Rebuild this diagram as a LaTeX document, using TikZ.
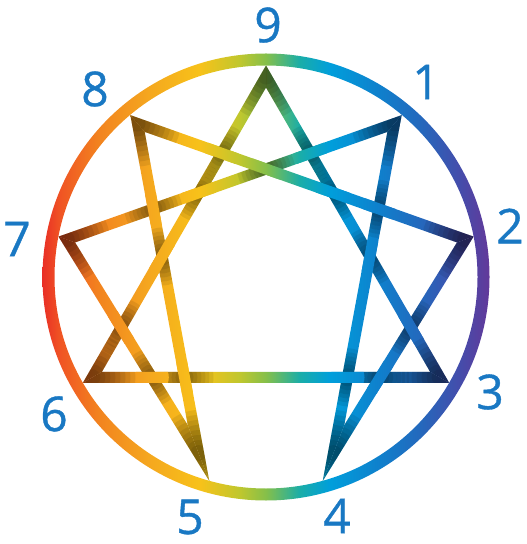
\documentclass[tikz,border=0pt]{standalone}
\usepackage{fontspec}
\setmainfont{Open Sans}
\newfontfamily\digitfont{Open Sans}[FakeBold=0.8]
\usetikzlibrary{calc}
\definecolor{digitblue}{RGB}{25,120,195}
% colour runs from left (red) to right (violet)
\pgfdeclarehorizontalshading{spectrum}{100bp}{%
  rgb(0bp)=(0.91,0.16,0.15); rgb(28.8bp)=(0.91,0.16,0.15);
  rgb(30.7bp)=(0.94,0.33,0.14); rgb(34.5bp)=(0.95,0.52,0.12);
  rgb(39.3bp)=(0.96,0.66,0.12); rgb(44bp)=(0.97,0.76,0.10);
  rgb(47.8bp)=(0.75,0.78,0.18); rgb(50.3bp)=(0.52,0.75,0.29);
  rgb(53.5bp)=(0.10,0.68,0.66); rgb(56.4bp)=(0.00,0.62,0.86);
  rgb(61.1bp)=(0.06,0.50,0.80); rgb(64.9bp)=(0.14,0.41,0.74);
  rgb(68.7bp)=(0.27,0.30,0.67); rgb(71.6bp)=(0.39,0.22,0.60);
  rgb(100bp)=(0.39,0.22,0.60)}
\tikzset{
  digit/.style={text=digitblue, font=\digitfont\fontsize{24}{24}\selectfont, inner sep=0pt},
  dimlayer/.style={fill=black, opacity=0.08},
}
\newcommand{\ribbonhalf}{2.75pt}
% under ribbon / over ribbon
\newcommand{\crossings}{6/9/2/8, 6/9/7/1, 8/5/6/9, 6/9/5/7, 9/3/7/1, 9/3/2/8, 9/3/1/4,
  4/2/9/3, 3/6/8/5, 5/7/3/6, 1/4/3/6, 3/6/4/2, 7/1/2/8, 7/1/8/5, 1/4/2/8}
% one ribbon, from vertex #1 to vertex #2
\newcommand{\band}[2]{%
  \begin{scope}
    \clip (x#1) -- (x#2) -- (y#2) -- (y#1) -- cycle;
    \shade[shading=spectrum] (0,0) rectangle (526,544);
    \foreach \rad in {8,13,...,43}
      \fill[dimlayer] (v#1) circle (\rad) (v#2) circle (\rad);
  \end{scope}}

\begin{document}
\begin{tikzpicture}[x=0.5pt, y=-0.5pt]
  \useasboundingbox (0,0) rectangle (526,544);

  % vertices (centre lines)
  \coordinate (v9) at (266,76.5);
  \coordinate (v1) at (394.5,123.5);
  \coordinate (v2) at (465.2,239.5);
  \coordinate (v3) at (439.6,377.3);
  \coordinate (v4) at (333.5,453);
  \coordinate (v5) at (198.5,453);
  \coordinate (v6) at (92.4,377.3);
  \coordinate (v7) at (66.8,239.5);
  \coordinate (v8) at (137.5,123.5);
  \coordinate (mid) at (266,277);

  % mitre corners (vertex/next/previous)
  \foreach \vx/\nx/\px in {9/3/6, 3/6/9, 6/9/3, 1/4/7, 4/2/1, 2/8/4, 8/5/2, 5/7/8, 7/1/5} {
    \coordinate (np\vx) at ($(v\vx)!\ribbonhalf!90:(v\nx)$);
    \coordinate (nq\vx) at ($(v\nx)!\ribbonhalf!-90:(v\vx)$);
    \coordinate (nr\vx) at ($(v\vx)!\ribbonhalf!-90:(v\nx)$);
    \coordinate (ns\vx) at ($(v\nx)!\ribbonhalf!90:(v\vx)$);
    \coordinate (pp\vx) at ($(v\vx)!\ribbonhalf!90:(v\px)$);
    \coordinate (pq\vx) at ($(v\px)!\ribbonhalf!-90:(v\vx)$);
    \coordinate (pr\vx) at ($(v\vx)!\ribbonhalf!-90:(v\px)$);
    \coordinate (ps\vx) at ($(v\px)!\ribbonhalf!90:(v\vx)$);
    \coordinate (x\vx) at (intersection cs: first line={(np\vx)--(nq\vx)}, second line={(pr\vx)--(ps\vx)});
    \coordinate (y\vx) at (intersection cs: first line={(nr\vx)--(ns\vx)}, second line={(pp\vx)--(pq\vx)});
  }

  % triangle 9-3-6 and hexad 1-4-2-8-5-7
  \foreach \ua/\ub in {9/3, 3/6, 6/9, 1/4, 4/2, 2/8, 8/5, 5/7, 7/1} {
    \band{\ua}{\ub}
  }

  % shade the lower ribbon at each crossing
  \foreach \ua/\ub/\oa/\ob in \crossings {
    \coordinate (cr) at (intersection cs: first line={(v\ua)--(v\ub)}, second line={(v\oa)--(v\ob)});
    \begin{scope}
      \clip (x\ua) -- (x\ub) -- (y\ub) -- (y\ua) -- cycle;
      \foreach \rad in {5,9,...,29}
        \fill[dimlayer] (cr) circle (\rad);
    \end{scope}
  }
  % then lay the upper ribbon back on top
  \foreach \ua/\ub/\oa/\ob in \crossings {
    \coordinate (cr) at (intersection cs: first line={(v\ua)--(v\ub)}, second line={(v\oa)--(v\ob)});
    \begin{scope}
      \clip (cr) circle (17);
      \band{\oa}{\ob}
    \end{scope}
  }

  % ring
  \begin{scope}[even odd rule]
    \clip (mid) circle (223.5) (mid) circle (211.5);
    \shade[shading=spectrum] (0,0) rectangle (526,544);
  \end{scope}

  % numbers
  \node[digit] (lab9) at (268,25) {9};
  \node[digit] (lab1) at (426,82) {1};
  \node[digit] (lab2) at (510,226) {2};
  \node[digit] (lab3) at (490,392) {3};
  \node[digit] (lab4) at (337,516) {4};
  \node[digit] (lab5) at (190,517) {5};
  \node[digit] (lab6) at (54,414) {6};
  \node[digit] (lab7) at (17,239) {7};
  \node[digit] (lab8) at (95,89) {8};
\end{tikzpicture}
\end{document}
